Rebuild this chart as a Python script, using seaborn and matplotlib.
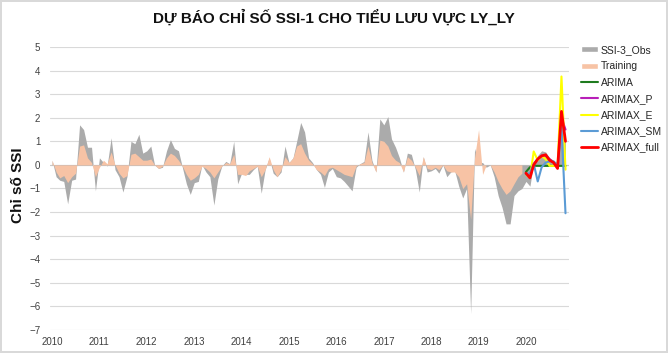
import matplotlib

matplotlib.use("Agg")
import matplotlib.dates as mdates
import matplotlib.pyplot as plt
import numpy as np
import pandas as pd
import seaborn as sns
from matplotlib.lines import Line2D
from matplotlib.patches import Patch

# monthly SSI values (Jan 2010 - Nov 2020)
obs = [
    0.2, -0.5, -0.65, -0.7, -1.65, -0.65, -0.6, 1.7, 1.5, 0.75, 0.75, -1.1,
    0.3, 0.1, -0.05, 1.15, -0.2, -0.5, -1.15, -0.5, 1.0, 0.9, 1.3, 0.5,
    0.6, 0.8, 0.0, -0.15, -0.1, 0.6, 1.07, 0.7, 0.6, -0.1, -0.8, -1.25,
    -0.75, -0.7, 0.0, -0.3, -0.5, -1.7, -0.6, -0.05, 0.15, 0.05, 1.0, -0.8,
    -0.35, -0.4, -0.4, -0.2, -0.05, -1.2, -0.2, 0.3, -0.35, -0.5, -0.3, 0.8,
    0.1, 0.3, 1.0, 1.8, 1.4, 0.3, 0.1, -0.2, -0.4, -0.95, -0.3, -0.15,
    -0.5, -0.55, -0.7, -0.9, -1.1, -0.1, 0.05, 0.15, 1.4, 0.2, -0.3, 1.95,
    1.7, 2.05, 1.1, 0.75, 0.3, -0.3, 0.5, 0.45, -0.2, -1.15, 0.35, -0.3,
    -0.25, -0.15, -0.35, 0.0, -0.5, -0.3, -0.25, -0.9, -1.4, -1.0, -6.3, 0.7,
    0.1, 0.1, -0.1, 0.0, -0.5, -1.3, -1.8, -2.5, -2.5, -1.3, -1.1, -1.0,
    -0.7, -0.9, 0.1, 0.4, 0.6, 0.55, 0.3, 0.2, 0.0, 2.3, 1.0,
]

training = [
    0.2, -0.3, -0.55, -0.45, -0.75, -0.5, -0.35, 0.8, 0.85, 0.3, 0.1, -0.5,
    -0.1, 0.2, 0.05, 0.55, 0.0, -0.35, -0.55, -0.45, 0.45, 0.5, 0.35, 0.2,
    0.2, 0.25, 0.0, -0.15, -0.05, 0.3, 0.5, 0.4, 0.2, -0.05, -0.4, -0.65,
    -0.55, -0.4, -0.05, -0.15, -0.3, -0.55, -0.3, -0.05, 0.1, 0.05, 0.45, -0.4,
    -0.4, -0.45, -0.25, -0.15, -0.05, -0.5, -0.2, 0.35, -0.2, -0.5, -0.2, 0.35,
    0.1, 0.3, 0.8, 0.9, 0.5, 0.2, 0.05, -0.2, -0.3, -0.45, -0.15, -0.1,
    -0.2, -0.3, -0.4, -0.45, -0.5, -0.05, 0.05, 0.1, 0.8, 0.1, -0.3, 1.05,
    1.0, 0.8, 0.4, 0.2, 0.1, -0.3, 0.35, 0.2, -0.1, -0.45, 0.35, -0.15,
    -0.2, -0.1, -0.2, 0.0, -0.25, -0.3, -0.3, -0.5, -1.0, -0.8, -2.3, 0.3,
    1.5, -0.4, 0.0, 0.0, -0.3, -0.7, -1.0, -1.25, -1.1, -0.8, -0.5, -0.35,
]

# forecasts Jan 2020 - Nov 2020
arima = [-0.3, -0.1, -0.04, -0.04, -0.04, -0.04, -0.04, -0.04, -0.04, -0.04, -0.04]
arimax_p = [-0.35, -0.5, 0.05, 0.25, 0.4, 0.4, 0.25, 0.1, -0.1, 2.0, 1.5]
arimax_e = [-0.4, -0.55, 0.57, 0.2, 0.38, 0.25, -0.04, -0.04, -0.04, 3.75, -0.2]
arimax_sm = [-0.4, -0.35, 0.05, -0.7, -0.1, 0.1, 0.15, 0.15, 0.0, 1.6, -2.05]
arimax_full = [-0.35, -0.55, 0.0, 0.25, 0.38, 0.43, 0.2, 0.1, -0.15, 2.27, 1.0]

model_names = ["ARIMA", "ARIMAX_P", "ARIMAX_E", "ARIMAX_SM", "ARIMAX_full"]
model_colors = ["#1E7B1E", "#B81FB8", "#FFFF00", "#5B9BD5", "#FF0000"]
model_widths = [1.5, 1.5, 1.5, 1.5, 2.0]

dates = pd.date_range("2010-01-01", periods=len(obs), freq="MS")
train_dates = dates[: len(training)]
fc_dates = dates[len(training) :]

fc = pd.DataFrame(
    {
        "date": np.tile(fc_dates, len(model_names)),
        "model": np.repeat(model_names, len(fc_dates)),
        "value": arima + arimax_p + arimax_e + arimax_sm + arimax_full,
    }
)

sns.set_theme(style="white")
plt.rcParams["font.family"] = ["Liberation Sans", "DejaVu Sans"]

fig = plt.figure(figsize=(6.68, 3.53), dpi=100)
fig.patch.set_edgecolor("#D9D9D9")
fig.patch.set_linewidth(1.5)
ax = fig.add_axes([50 / 668, 1 - 330 / 353, 519 / 668, 283 / 353])

ax.fill_between(dates, 0, obs, color="#ABABAB", linewidth=0, zorder=2)
ax.fill_between(train_dates, 0, training, color="#F7C3A5", linewidth=0, zorder=3)

for name, color, lw in zip(model_names, model_colors, model_widths):
    sns.lineplot(
        data=fc[fc["model"] == name],
        x="date",
        y="value",
        color=color,
        linewidth=lw,
        ax=ax,
        zorder=4,
    )

ax.set_ylim(-7, 5)
ax.set_yticks(range(-7, 6))
ax.set_xlim(pd.Timestamp("2009-12-16"), pd.Timestamp("2020-11-28"))
ax.xaxis.set_major_locator(mdates.YearLocator())
ax.xaxis.set_major_formatter(mdates.DateFormatter("%Y"))
ax.grid(axis="y", color="#D9D9D9", linewidth=0.8, zorder=0)
ax.grid(axis="x", visible=False)
ax.axhline(0, color="#C8C8C8", linewidth=0.8, zorder=1)
for s in ax.spines.values():
    s.set_visible(False)
ax.tick_params(axis="both", length=0, labelsize=7, colors="#404040")
ax.tick_params(axis="y", pad=7)
ax.tick_params(axis="x", pad=5)
ax.set_xlabel("")
ax.set_ylabel("")

fig.text(
    18 / 668,
    1 - 185 / 353,
    "Chỉ số SSI",
    rotation=90,
    ha="center",
    va="center",
    fontsize=11,
    fontweight="bold",
    color="#111111",
)

fig.text(
    0.5,
    1 - 18 / 353,
    "DỰ BÁO CHỈ SỐ SSI-1 CHO TIỂU LƯU VỰC LY_LY",
    ha="center",
    va="center",
    fontsize=11,
    fontweight="bold",
    color="#111111",
)

handles = [
    Patch(facecolor="#ABABAB", label="SSI-3_Obs"),
    Patch(facecolor="#F7C3A5", label="Training"),
]
handles += [
    Line2D([0], [0], color=c, linewidth=lw, label=n)
    for n, c, lw in zip(model_names, model_colors, model_widths)
]
fig.legend(
    handles=handles,
    loc="upper left",
    bbox_to_anchor=(581 / 668, 1 - 45 / 353),
    frameon=False,
    fontsize=7.5,
    handlelength=1.6,
    handleheight=0.5,
    handletextpad=0.3,
    labelspacing=0.6,
    borderpad=0,
    borderaxespad=0,
)

fig.savefig("out.png", dpi=100, edgecolor=fig.get_edgecolor())
